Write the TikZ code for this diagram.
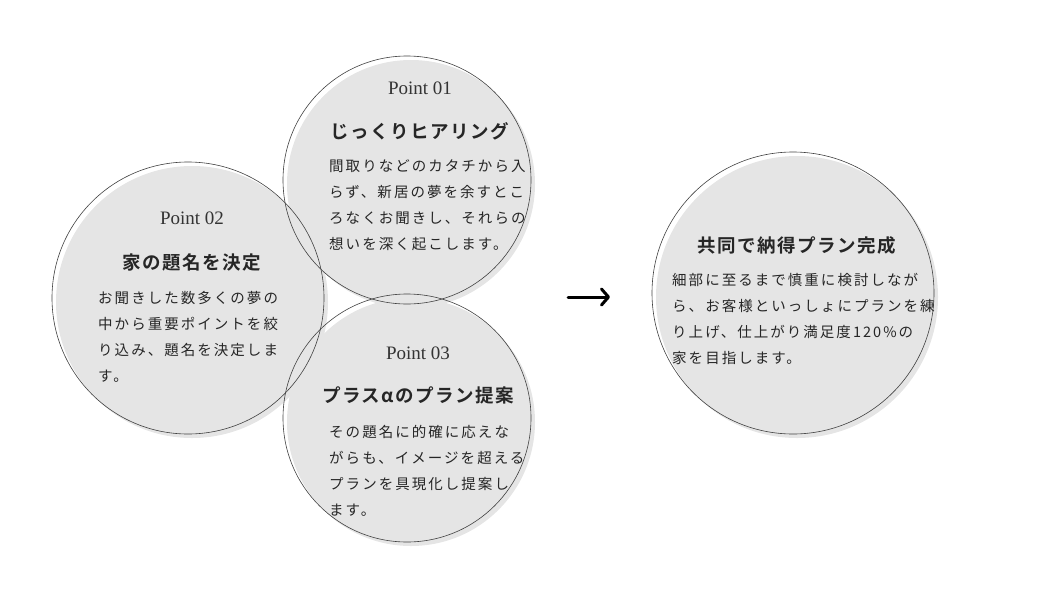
\documentclass[tikz,border=0pt]{standalone}
\usepackage{fontspec}
\setmainfont{Liberation Serif}
\newfontfamily\jp[LetterSpace=14]{Noto Sans CJK JP}
\newfontfamily\jpb[LetterSpace=8]{Noto Sans CJK JP Bold}
\usetikzlibrary{arrows.meta}
\begin{document}
\begin{tikzpicture}[x=1pt,y=-1pt,
  fillc/.style={fill=black!10},
  outl/.style={draw=black!75,line width=0.6pt},
  pt/.style={font=\fontsize{19}{20}\selectfont,text=black!80},
  ttl/.style={font=\jpb\fontsize{18.5}{20}\selectfont,text=black!85},
  body/.style={font=\jp\fontsize{14.5}{26}\selectfont,text=black!85,align=left,anchor=north west,inner sep=0}]
\useasboundingbox (0,0) rectangle (1040,600);
\foreach \x/\y/\r in {407/180/124,188/298/136,407/418/124,793/293/141}
  \fill[fillc] (\x+4,\y+4) circle (\r);
\node[outl,circle,minimum size=248pt,inner sep=0] (c1) at (407,180) {};
\node[outl,circle,minimum size=272pt,inner sep=0] (c2) at (188,298) {};
\node[outl,circle,minimum size=248pt,inner sep=0] (c3) at (407,418) {};
\node[outl,circle,minimum size=282pt,inner sep=0] (c4) at (793,293) {};
% circle 1
\node[pt] (p1) at (420,88) {Point 01};
\node[ttl] (t1) at (420,131) {じっくりヒアリング};
\node[body] (b1) at (329,159) {間取りなどのカタチから入\\らず、新居の夢を余すとこ\\ろなくお聞きし、それらの\\想いを深く起こします。};
% circle 2
\node[pt] (p2) at (192,218) {Point 02};
\node[ttl] (t2) at (192,262) {家の題名を決定};
\node[body] (b2) at (98,291) {お聞きした数多くの夢の\\中から重要ポイントを絞\\り込み、題名を決定しま\\す。};
% circle 3
\node[pt] (p3) at (418,353) {Point 03};
\node[ttl] (t3) at (418,395) {プラスαのプラン提案};
\node[body] (b3) at (329,425) {その題名に的確に応えな\\がらも、イメージを超える\\プランを具現化し提案し\\ます。};
% right circle
\node[ttl] (t4) at (797,245) {共同で納得プラン完成};
\node[body] (b4) at (672,273) {細部に至るまで慎重に検討しなが\\ら、お客様といっしょにプランを練\\り上げ、仕上がり満足度120\%の\\家を目指します。};
\coordinate (a0) at (568,297);
\coordinate (a1) at (610,297);
\draw[line width=3pt,line cap=round,-{Straight Barb[length=7pt,width=16pt,line width=3pt,round]}] (a0) -- (a1);
\end{tikzpicture}
\end{document}
